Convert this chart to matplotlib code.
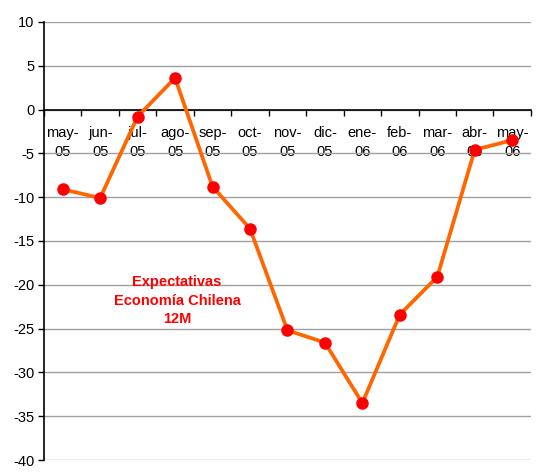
import matplotlib.pyplot as plt
from matplotlib.ticker import FixedLocator

plt.rcParams['font.family'] = ['Liberation Sans', 'DejaVu Sans']
plt.rcParams['axes.unicode_minus'] = False

# datos: expectativas economia chilena 12 meses
meses = ['may-\n05', 'jun-\n05', 'jul-\n05', 'ago-\n05', 'sep-\n05', 'oct-\n05',
         'nov-\n05', 'dic-\n05', 'ene-\n06', 'feb-\n06', 'mar-\n06', 'abr-\n06', 'may-\n06']
valores = [-9.1, -10.1, -0.8, 3.6, -8.8, -13.6, -25.2, -26.6, -33.5, -23.4, -19.1, -4.6, -3.5]

fig = plt.figure(figsize=(5.39, 4.76), dpi=100)
ax = fig.add_axes([0.0816, 0.0336, 0.9034, 0.9204])

x = list(range(len(meses)))
ax.plot(x, valores, color='#FF6600', linewidth=2.7, marker='o',
        markersize=8, markerfacecolor='#FF0000', markeredgecolor='#FF0000',
        zorder=4, clip_on=False)

ax.set_xlim(-0.5, len(meses) - 0.5)
ax.set_ylim(-40, 10)
ax.set_yticks(range(-40, 11, 5))
ax.yaxis.grid(True, color='#A0A0A0', linewidth=1.0)
ax.set_axisbelow(True)

# eje x en el cero
ax.spines['bottom'].set_position(('data', 0))
ax.spines['bottom'].set_linewidth(1.2)
ax.spines['left'].set_linewidth(1.2)
ax.spines['top'].set_visible(False)
ax.spines['right'].set_visible(False)

ax.set_xticks(x)
ax.set_xticklabels(meses, fontsize=10.5, linespacing=1.4)
ax.tick_params(axis='x', which='major', length=0, pad=12)
ax.xaxis.set_minor_locator(FixedLocator([i - 0.5 for i in range(len(meses) + 1)]))
ax.tick_params(axis='x', which='minor', length=4, width=1.0, direction='out')
ax.tick_params(axis='y', length=4, width=1.0, pad=3, labelsize=10.5)

ax.text(3.05, -21.8, 'Expectativas\nEconomía Chilena\n12M', color='#FF0000',
        fontsize=10.5, fontweight='bold', ha='center', va='center', linespacing=1.4)

fig.savefig('out.png', dpi=100)
